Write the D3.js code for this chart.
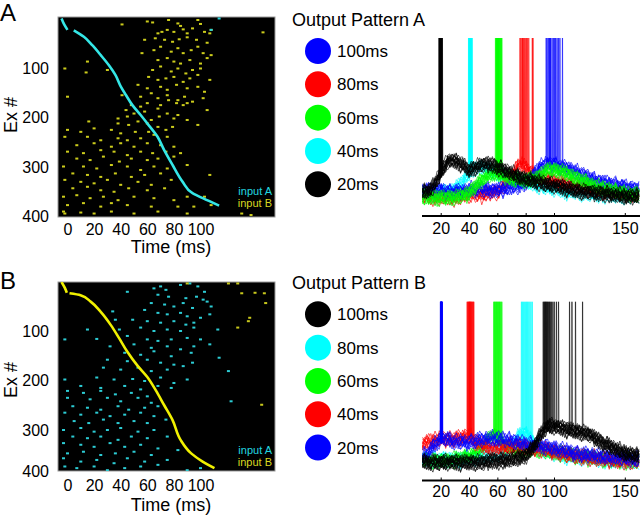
<!DOCTYPE html>
<html><head><meta charset="utf-8">
<script src="https://cdn.jsdelivr.net/npm/d3@7"></script>
<style>html,body{margin:0;padding:0;background:#fff;}svg{display:block;font-family:Arial,"Liberation Sans",sans-serif;}</style>
</head><body>
<svg id="c" width="640" height="522"></svg>
<script>
// ---------------- DATA ----------------
const timeTicks = [0,20,40,60,80,100];
const neuronTicks = [100,200,300,400];
const traceTicks = [20,40,60,80,100,150];

// sequential input pattern lines [time ms, neuron #]; null = gap
const seqA = [[-4.5,0],[-2.5,12],[0,23],null,[4.7,24],[12.3,37],[18.6,54],[25,74],[31,94],[36,114],[40,137],[43.8,154],[48.8,175],[55,195],[60,212],[67.7,239],[72.7,266],[79,296],[86.6,330],[94,353],[101.7,363],[114,378]];
const seqB = [[-4.5,0],[-2,12],[-0.5,22],null,[1.5,23],[9.8,27],[17.4,40],[25,61],[32.6,88],[38.9,115],[45,142],[52.6,170],[60,193],[66.4,220],[72.7,250],[79,280],[85,324],[93,357],[101.6,377],[110.5,393]];

// panel A: scattered spikes of input B (yellow) and extra input A (cyan)
const dotsAinputB = [[60,6],[64,8],[76,3],[83,10],[85,15],[98,3],[100,11],[41,12],[68,30],[71,27],[75,23],[80,27],[87,22],[90,30],[94,20],[103,27],[107,30],[147,28],[108,23],
[58,43],[66,40],[73,43],[79,47],[84,42],[90,38],[97,43],[105,49],
[56,70],[65,64],[70,57],[78,67],[83,60],[87,70],[93,64],[98,57],[102,70],[108,74],
[15,87],[68,84],[75,80],[80,87],[85,91],[92,84],[100,91],[105,80],
[-2,101],[64,104],[70,97],[78,107],[83,101],[89,111],[94,104],[100,101],
[14,109],[30,104],[61,118],[68,124],[74,121],[80,118],[87,128],[92,121],[98,114],[107,124],
[53,134],[60,141],[70,138],[75,144],[82,134],[90,141],[98,138],[103,148],
[41,155],[55,158],[63,151],[68,161],[75,155],[83,165],[88,158],[94,168],[102,161],
[0,158],[48,175],[55,178],[60,171],[70,175],[76,165],[82,171],[87,175],[90,171],
[44,185],[50,192],[58,188],[68,182],[75,192],[83,195],[105,185],
[38,202],[45,198],[53,208],[63,205],[69,198],[80,202],[90,205],
[16,208],[38,212],[46,215],[60,212],[68,219],[79,219],[98,215],
[0,225],[10,229],[20,222],[33,225],[40,232],[51,229],[61,229],[74,225],
[-2,239],[15,239],[25,246],[38,242],[45,246],[55,242],[65,235],[75,239],
[7,256],[20,252],[33,259],[40,252],[50,259],[60,252],[70,256],[80,259],
[0,269],[12,272],[25,266],[35,269],[45,276],[55,269],[64,272],[74,269],[85,272],
[7,283],[17,286],[27,279],[39,289],[48,283],[60,286],[68,283],[80,279],
[-3,299],[12,299],[22,303],[33,296],[45,299],[55,306],[65,299],[75,303],[90,296],
[4,313],[15,316],[25,320],[36,313],[48,320],[58,316],[70,313],[107,316],
[-2,326],[10,330],[20,333],[30,326],[40,336],[53,330],[63,336],[78,326],
[4,343],[15,340],[25,347],[35,350],[46,343],[60,347],[73,343],
[-3,360],[7,357],[17,363],[27,360],[38,367],[50,360],[65,363],[80,367],[90,360],[103,360],
[0,377],[12,373],[25,380],[33,373],[45,377],[63,380],[83,380],[95,380],[108,377],
[-3,390],[-2,394],[10,392],[20,394],[33,390],[50,394],[68,390],[90,394],[131,394],[138,397]];
const dotsAinputA = [[114,0],[108,23]];

// panel B: scattered spikes of input A (cyan) and extra input B (yellow)
const dotsBinputA = [[45,20],[65,13],[70,9],[74,16],[85,6],[92,3],[98,9],[103,20],[68,26],[76,30],[89,33],[97,30],[102,36],[105,40],
[63,43],[73,46],[80,50],[87,43],[94,53],[108,50],[34,60],[58,57],[68,63],[75,66],[85,63],[90,70],[100,73],[107,66],
[36,77],[49,77],[60,80],[70,83],[80,80],[89,87],[95,83],[15,97],[39,97],[55,93],[65,100],[75,97],[85,100],[95,93],[113,97],
[-2,117],[22,116],[45,110],[60,117],[68,120],[78,117],[90,114],[100,117],[32,131],[50,127],[63,134],[75,131],[85,137],[95,131],[107,127],
[43,144],[55,148],[65,141],[78,151],[93,144],[114,154],[30,158],[45,161],[60,158],[70,164],[80,168],[94,164],
[27,174],[40,178],[53,174],[63,181],[75,178],[87,171],[121,181],[-2,198],[22,194],[35,198],[49,197],[58,201],[70,194],[80,205],[90,198],
[10,211],[25,215],[43,211],[55,218],[68,211],[78,215],[123,242],
[0,221],[12,225],[25,221],[36,228],[48,225],[60,232],[0,235],[17,238],[30,235],[40,242],[53,235],[63,245],
[4,252],[15,255],[25,259],[38,252],[46,259],[58,255],[68,252],[-2,265],[10,269],[22,265],[32,272],[43,269],[55,265],[65,272],
[5,282],[16,286],[27,279],[38,286],[50,282],[60,286],[74,279],[-3,300],[10,296],[20,304],[30,300],[40,296],[53,304],[65,300],
[4,316],[15,320],[25,316],[38,324],[48,316],[60,320],[75,316],[-3,332],[10,336],[20,341],[32,332],[43,341],[55,336],[68,345],
[0,357],[12,353],[25,361],[36,357],[50,353],[63,361],[83,349],[-3,369],[10,377],[22,373],[35,381],[45,369],[58,377],[75,373],
[-2,389],[7,393],[20,389],[30,398],[43,393],[55,389],[68,385],[90,398],[100,393]];
const dotsBinputB = [[90,3],[121,3],[128,3],[131,23],[141,22],[148,23],[149,43],[137,73],[136,80],[128,93],[146,249]];

// legends
const legendLabelsA = ["100ms","80ms","60ms","40ms","20ms"];
const legendColorsA = ["#0000ff","#ff0000","#00ff00","#00ffff","#000000"];
const legendLabelsB = ["100ms","80ms","60ms","40ms","20ms"];
const legendColorsB = ["#000000","#00ffff","#00ff00","#ff0000","#0000ff"];

// membrane potential profiles (mV) sampled every 5 ms
const profileT = [5,10,15,20,25,30,35,40,45,50,55,60,65,70,75,80,85,90,95,100,105,110,115,120,125,130,135,140,145,150,155,160];
const vA20 = [-70,-70,-68,-64,-60,-60,-61,-63,-62,-61,-61,-62,-63,-64,-65,-66,-66.5,-67,-67.5,-68,-68.5,-69,-69.5,-70,-70,-70.5,-70.5,-71,-71,-71.5,-71.5,-71.5];
const vA40 = [-70,-70.5,-70.5,-70,-70,-69,-67,-64,-62,-62,-63,-64,-65,-66,-66.5,-67,-67.5,-68,-68.5,-69,-69.5,-70,-70,-70.5,-70.5,-71,-71,-71,-71.5,-71.5,-71.5,-71.5];
const vA60 = [-71.5,-72,-72,-72,-72,-72,-71.5,-70.5,-68,-66,-64.5,-64,-65,-66,-66,-66.5,-66,-65,-63,-63,-63.5,-64.5,-65.5,-66.5,-67.5,-68.5,-69,-69.5,-70,-70.5,-71,-71];
const vA80 = [-71,-71.5,-72,-72,-72,-72,-71.5,-71,-71,-71,-70.5,-70,-68,-65,-61,-62,-64,-65.5,-66,-66.5,-67,-67.5,-68,-68.5,-69,-69.5,-70,-70,-70.5,-70.5,-71,-71];
const vA100 = [-69.5,-69.5,-69.5,-69.5,-70,-70,-70,-69.5,-69,-69,-69.5,-69.5,-69,-68.5,-68,-67,-65,-62,-61,-61,-62,-62.5,-63.5,-64.5,-65.5,-66.5,-67,-67.5,-68,-68.5,-69,-69];
const vB20 = [-70,-69,-66,-64,-64,-65,-65,-65,-64.5,-64,-64,-64,-64,-64.5,-65,-65.5,-66,-66,-66.5,-67,-67.5,-68,-68.5,-69,-69,-69.5,-69.5,-70,-70,-70,-70.5,-70.5];
const vB40 = [-66,-65,-64.5,-64,-64,-64,-63.5,-63,-65,-66,-67,-67,-66.5,-66.5,-66,-66.5,-67,-67,-67.5,-68,-68.5,-69,-69.5,-69.5,-70,-70,-70.5,-70.5,-71,-71,-71,-71];
const vB60 = [-70.5,-70.5,-71,-71,-71,-70.5,-70,-69.5,-68.5,-66.5,-63,-63,-66,-67,-67.5,-67.5,-67.5,-67.5,-68,-68.5,-68.5,-69,-69.5,-69.5,-70,-70,-70.5,-70.5,-71,-71,-71,-71];
const vB80 = [-70.5,-70.5,-70.5,-70.5,-70.5,-70.5,-70.5,-70,-70,-69.5,-69,-68.5,-68,-66.5,-63,-62,-65,-67,-68,-68.5,-69,-69.5,-69.5,-70,-70,-70.5,-70.5,-71,-71,-71,-71.5,-71.5];
const vB100 = [-71,-71.5,-71.5,-71.5,-71.5,-71.5,-71.5,-71.5,-71.5,-71.5,-71,-71,-71,-70.5,-70,-69.5,-67,-63,-60,-60,-60.5,-61,-61.5,-62,-62.5,-64,-65.5,-66.5,-67.5,-68.5,-69,-69.5];

// spike times (ms) of each trial
const spA20 = [18.6,18.9,19.1,19.3,19.4,19.5,19.6,19.7,19.8,19.9,20.0,20.1,20.2,20.3,20.5,20.7,21.0,19.2];
const spA40 = [39.5,39.8,40.0,40.2,40.4,40.6,40.8,41.0,41.2,41.5,41.8,42.0];
const spA60 = [58.5,59,59.3,59.6,60,60.3,60.6,61,61.4,61.8,62.2,62.6,63,60.8,59.8];
const spA80 = [75.8,76.5,77.3,78,78.8,79.5,80.3,81,82,84.5,85,77.8];
const spA100 = [94.3,95,96,96.8,97.5,98.5,99.5,100.3,101,102,103,104,105.8,97];
const spB20 = [19.6,19.8,20,20.2,20.4,20.6,20.8,21,20.1,19.9,20.3,20.5];
const spB40 = [38.5,39,39.4,39.8,40.2,40.6,41,41.4,41.8,42.2,42.8,43.2,40.4];
const spB60 = [57.3,57.8,58.3,58.8,59.3,59.8,60.3,60.8,61.3,61.8,62.4,63];
const spB80 = [76.8,77.5,78.2,79,79.8,80.5,81.2,82,82.8,83.6,84.5];
const spB100 = [92.2,92.8,93.3,93.8,94.3,94.8,95.3,96,96.6,97.2,98,99,100,101.5,103,110.8,112.5,115,120];

// hand-typed fluctuations (mV) and per-trial offsets (mV)
const noise = [0.4,-0.6,1.1,-0.2,-1.3,0.8,0.1,-0.9,1.4,-0.4,0.6,-1.1,0.2,0.9,-0.7,-0.1,1.2,-1.4,0.5,-0.3,0.7,-0.8,1.0,0.0,-1.2,0.3,1.3,-0.5,-0.9,0.6,-0.2,1.1,-1.0,0.4,0.8,-1.3,0.2,-0.6,0.9,-0.1,-0.7,1.2,-0.4,0.3,-1.1,0.7,0.1,-0.8,1.0,-0.3];
const trialOffsets = [-1.2,0.8,-0.3,1.5,-0.9,0.2,1.1,-1.6,0.5,-0.5,1.3,-0.1,0.7,-1.0,0.0,1.7,-0.7,0.4,-1.4,0.9];

// ---------------- DRAWING ----------------
const svg = d3.select("#c");
const FONT = 'Arial,"Liberation Sans",sans-serif';

// panel letters
svg.append("text").attr("x",0).attr("y",21).attr("font-size",24).text("A");
svg.append("text").attr("x",0).attr("y",289).attr("font-size",24).text("B");

const xR = d3.scaleLinear().domain([0,100]).range([67.5,200.5]);

function raster(cfg){
  const g = svg.append("g");
  const yR = cfg.y;
  g.append("rect").attr("x",58).attr("y",cfg.top).attr("width",217).attr("height",cfg.bottom-cfg.top)
    .attr("fill","#000").attr("stroke","#9a9a9a").attr("stroke-width",1);
  const clipId = "clip"+cfg.id;
  svg.append("clipPath").attr("id",clipId).append("rect").attr("x",58).attr("y",cfg.top).attr("width",217).attr("height",cfg.bottom-cfg.top);
  const p = g.append("g").attr("clip-path",`url(#${clipId})`);
  p.selectAll("rect.d1").data(cfg.dots1).join("rect").attr("class","d1")
    .attr("x",d=>xR(d[0])-1.5).attr("y",d=>yR(d[1])-1).attr("width",3).attr("height",2).attr("fill",cfg.dotColor1);
  p.selectAll("rect.d2").data(cfg.dots2).join("rect").attr("class","d2")
    .attr("x",d=>xR(d[0])-1.5).attr("y",d=>yR(d[1])-1).attr("width",3).attr("height",2).attr("fill",cfg.dotColor2);
  const line = d3.line().defined(d=>d).x(d=>xR(d[0])).y(d=>yR(d[1])).curve(d3.curveMonotoneY);
  p.append("path").attr("d",line(cfg.seq)).attr("fill","none").attr("stroke",cfg.seqColor).attr("stroke-width",2.6);
  // axes
  const ax = g.append("g").attr("transform",`translate(58,0)`)
    .call(d3.axisLeft(yR).tickValues(neuronTicks).tickSize(0).tickPadding(9));
  ax.select(".domain").remove();
  ax.selectAll("text").attr("font-size",16).attr("font-family",FONT).attr("fill","#000");
  const bx = g.append("g").attr("transform",`translate(0,${cfg.bottom})`)
    .call(d3.axisBottom(xR).tickValues(timeTicks).tickSize(0).tickPadding(cfg.xPad));
  bx.select(".domain").remove();
  bx.selectAll("text").attr("font-size",16).attr("font-family",FONT).attr("fill","#000");
  g.append("text").attr("x",171).attr("y",cfg.timeY).attr("text-anchor","middle").attr("font-size",18).text("Time (ms)");
  g.append("text").attr("transform",`translate(17,${cfg.exY}) rotate(-90)`).attr("text-anchor","middle").attr("font-size",18).text("Ex #");
  g.append("text").attr("x",272).attr("y",cfg.legY).attr("text-anchor","end").attr("font-size",11).attr("fill","#22d8e0").text("input A");
  g.append("text").attr("x",272).attr("y",cfg.legY+12.4).attr("text-anchor","end").attr("font-size",11).attr("fill","#d8d820").text("input B");
}

raster({id:"A", top:17, bottom:217, y:d3.scaleLinear().domain([0,400]).range([18.5,216.5]),
  dots1:dotsAinputB, dotColor1:"#cccc1c", dots2:dotsAinputA, dotColor2:"#28d0d8",
  seq:seqA, seqColor:"#34e6e6", xPad:7, timeY:253, exY:115, legY:195});
raster({id:"B", top:282, bottom:471, y:d3.scaleLinear().domain([0,100,200,300,400]).range([282,331,380.5,430,471]),
  dots1:dotsBinputA, dotColor1:"#2cccd4", dots2:dotsBinputB, dotColor2:"#c8c81c",
  seq:seqB, seqColor:"#f0f000", xPad:9, timeY:511, exY:380, legY:454});

// legends
function legend(title, labels, colors, titleY, firstY){
  const g = svg.append("g");
  g.append("text").attr("x",292).attr("y",titleY).attr("font-size",18).text(title);
  const yL = d3.scalePoint().domain(labels).range([firstY, firstY+133.3]);
  g.selectAll("circle").data(labels).join("circle").attr("cx",318).attr("cy",d=>yL(d)).attr("r",13)
    .attr("fill",(d,i)=>colors[i]);
  g.selectAll("text.l").data(labels).join("text").attr("class","l").attr("x",337).attr("y",d=>yL(d)+6)
    .attr("font-size",17).text(d=>d);
}
legend("Output Pattern A", legendLabelsA, legendColorsA, 25.5, 51);
legend("Output Pattern B", legendLabelsB, legendColorsB, 288.5, 314.3);

// traces
const xT = d3.scaleLinear().domain([20,150]).range([440.7,624.8]);
function traces(cfg){
  const g = svg.append("g");
  const clipId = "tclip"+cfg.id;
  svg.append("clipPath").attr("id",clipId).append("rect").attr("x",422).attr("y",cfg.top).attr("width",218).attr("height",cfg.axisY-cfg.top-2);
  const p = g.append("g").attr("clip-path",`url(#${clipId})`);
  const line = d3.line().x(d=>xT(d[0])).y(d=>cfg.y(d[1]));
  cfg.sets.forEach((s,si)=>{
    const prof = d3.scaleLinear().domain(profileT).range(s.v).clamp(true);
    s.sp.forEach((ts,k)=>{
      const off = trialOffsets[(k+si*3)%trialOffsets.length]*1.0;
      const pts = [];
      let spiked = false, j = 0;
      for(let t=7;t<=161;t+=1.5, j++){
        const nz = noise[(j + k*7 + si*11) % noise.length]*1.1;
        if(!spiked && t>=ts){
          pts.push([ts, prof(ts)+off+nz*0.5]);
          pts.push([ts+0.15, 0]);
          pts.push([ts+0.5, prof(ts+0.5)+off]);
          spiked = true;
        }
        pts.push([t, prof(t)+off+nz]);
      }
      p.append("path").attr("d",line(pts)).attr("fill","none").attr("stroke",s.c).attr("stroke-width",0.7).attr("stroke-opacity",0.9);
    });
  });
  const ax = g.append("g").attr("transform",`translate(0,${cfg.axisY})`)
    .call(d3.axisBottom(xT).tickValues(traceTicks).tickSizeInner(-3).tickSizeOuter(0).tickPadding(cfg.pad));
  ax.select(".domain").attr("d",`M${422},0H640`).attr("stroke","#000").attr("stroke-width",2);
  ax.selectAll("line").attr("stroke","#000");
  ax.selectAll("text").attr("font-size",16).attr("font-family",FONT).attr("fill","#000");
}
traces({id:"A", top:38, axisY:216, pad:7, y:d3.scaleLinear().domain([-75,-20]).range([207.4,38]),
  sets:[{v:vA40,sp:spA40,c:"#00ffff"},{v:vA80,sp:spA80,c:"#ff0000"},{v:vA100,sp:spA100,c:"#0000ff"},{v:vA60,sp:spA60,c:"#00ff00"},{v:vA20,sp:spA20,c:"#000000"}]});
traces({id:"B", top:301.7, axisY:480.5, pad:5, y:d3.scaleLinear().domain([-75,-20]).range([473.6,301.7]),
  sets:[{v:vB80,sp:spB80,c:"#00ffff"},{v:vB60,sp:spB60,c:"#00ff00"},{v:vB40,sp:spB40,c:"#ff0000"},{v:vB20,sp:spB20,c:"#0000ff"},{v:vB100,sp:spB100,c:"#000000"}]});
</script>
</body></html>
